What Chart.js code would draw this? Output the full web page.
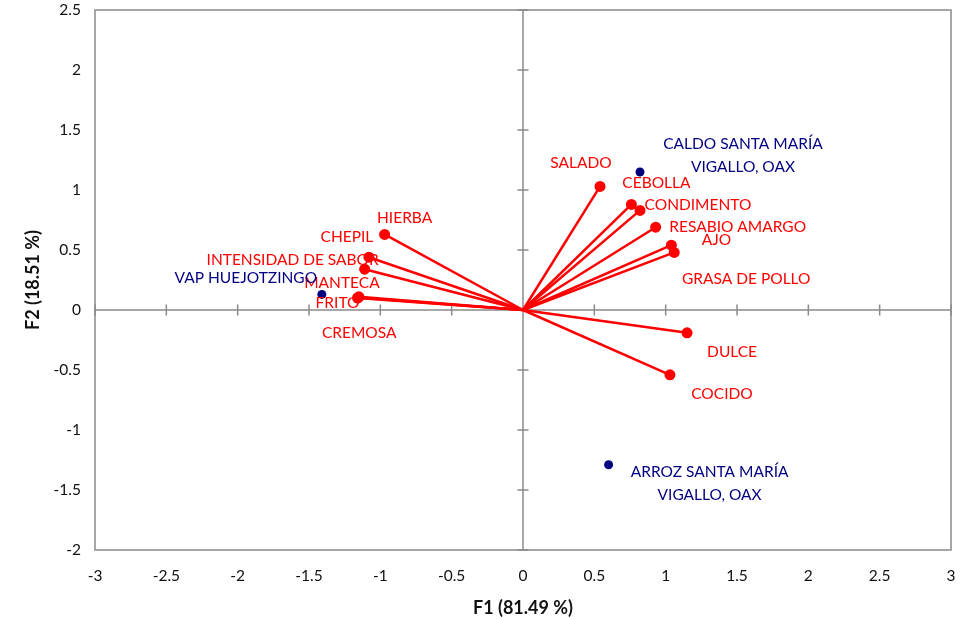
<!DOCTYPE html>
<html>
<head>
<meta charset="utf-8">
<script src="https://cdn.jsdelivr.net/npm/chart.js@4.4.0/dist/chart.umd.min.js"></script>
<style>
  html, body { margin: 0; padding: 0; background: #fff; }
  #wrap { width: 974px; height: 619px; }
</style>
</head>
<body>
<div id="wrap"><canvas id="biplot" width="974" height="619"></canvas></div>
<script>
// sensory attributes (variables) on F1 / F2
const varNames = ['SALADO', 'CEBOLLA', 'CONDIMENTO', 'RESABIO AMARGO', 'AJO', 'GRASA DE POLLO', 'DULCE', 'COCIDO',
  'HIERBA', 'CHEPIL', 'INTENSIDAD DE SABOR', 'MANTECA', 'FRITO', 'CREMOSA'];
const varF1 = [0.54, 0.76, 0.82, 0.93, 1.04, 1.06, 1.15, 1.03, -0.97, -1.08, -1.11, -1.15, -1.16, -1.155];
const varF2 = [1.03, 0.88, 0.83, 0.69, 0.54, 0.48, -0.19, -0.54, 0.63, 0.44, 0.34, 0.11, 0.10, 0.105];

// samples (observations)
const obsNames = [['CALDO SANTA MARÍA', 'VIGALLO, OAX'], ['VAP HUEJOTZINGO'], ['ARROZ SANTA MARÍA', 'VIGALLO, OAX']];
const obsF1 = [0.82, -1.41, 0.60];
const obsF2 = [1.15, 0.13, -1.29];

const xTickValues = [-3, -2.5, -2, -1.5, -1, -0.5, 0, 0.5, 1, 1.5, 2, 2.5, 3];
const yTickValues = [-2, -1.5, -1, -0.5, 0, 0.5, 1, 1.5, 2, 2.5];

// where each label sits relative to its point, in px
const varLabelOffset = [[-19, -23], [25, -21], [58, -5], [82, 0], [45, -5], [72, 27], [45, 19], [52, 19],
  [20, -16], [-22, -20], [-72, -9], [-17, -14], [-20, 5], [1, 36]];
const obsLabelOffset = [[103, -28], [-76, -16], [101, 7]];

const RED = '#FF0000';
const NAVY = '#000080';
const AXIS_GREY = '#8a8a8a';
const FONT = 'Lato, "Open Sans", sans-serif';

const vectorSets = varNames.map((name, i) => ({
  label: name,
  data: [{ x: 0, y: 0 }, { x: varF1[i], y: varF2[i] }],
  showLine: true,
  borderColor: RED,
  borderWidth: 2.5,
  pointRadius: [0, 5.5],
  pointHoverRadius: [0, 5.5],
  pointBackgroundColor: RED,
  pointBorderWidth: 0,
  order: 2
}));

const obsSet = {
  label: 'obs',
  data: obsF1.map((x, i) => ({ x: x, y: obsF2[i] })),
  showLine: false,
  pointRadius: 4.5,
  pointBackgroundColor: NAVY,
  pointBorderWidth: 0,
  order: 1
};

// frame + zero axes with cross tick marks
const axesPlugin = {
  id: 'axesPlugin',
  beforeDatasetsDraw(chart) {
    const { ctx, chartArea: a, scales: { x, y } } = chart;
    ctx.save();
    ctx.strokeStyle = AXIS_GREY;
    ctx.lineWidth = 1.5;
    ctx.strokeRect(a.left, a.top, a.right - a.left, a.bottom - a.top);
    const x0 = x.getPixelForValue(0);
    const y0 = y.getPixelForValue(0);
    ctx.beginPath();
    ctx.moveTo(a.left, y0); ctx.lineTo(a.right, y0);
    ctx.moveTo(x0, a.top); ctx.lineTo(x0, a.bottom);
    xTickValues.forEach(v => {
      const px = x.getPixelForValue(v);
      ctx.moveTo(px, y0 - 5.5); ctx.lineTo(px, y0 + 5.5);
    });
    yTickValues.forEach(v => {
      const py = y.getPixelForValue(v);
      ctx.moveTo(x0 - 5.5, py); ctx.lineTo(x0 + 5.5, py);
    });
    ctx.stroke();
    ctx.restore();
  }
};

// point names
const labelPlugin = {
  id: 'labelPlugin',
  afterDatasetsDraw(chart) {
    const { ctx, scales: { x, y } } = chart;
    ctx.save();
    ctx.font = '15.5px ' + FONT;
    ctx.textAlign = 'center';
    ctx.textBaseline = 'middle';
    ctx.fillStyle = RED;
    varNames.forEach((name, i) => {
      const px = x.getPixelForValue(varF1[i]) + varLabelOffset[i][0];
      const py = y.getPixelForValue(varF2[i]) + varLabelOffset[i][1];
      ctx.fillText(name, px, py);
    });
    ctx.fillStyle = NAVY;
    obsNames.forEach((lines, i) => {
      const px = x.getPixelForValue(obsF1[i]) + obsLabelOffset[i][0];
      const py = y.getPixelForValue(obsF2[i]) + obsLabelOffset[i][1];
      lines.forEach((t, k) => ctx.fillText(t, px, py + k * 23));
    });
    ctx.restore();
  }
};

new Chart(document.getElementById('biplot'), {
  type: 'scatter',
  data: { datasets: [...vectorSets, obsSet] },
  options: {
    responsive: false,
    animation: false,
    devicePixelRatio: 1,
    layout: { padding: { top: 10, right: 23, left: 0, bottom: 0 } },
    plugins: { legend: { display: false }, tooltip: { enabled: false } },
    scales: {
      x: {
        type: 'linear',
        min: -3,
        max: 3,
        grid: { display: false, drawTicks: false },
        border: { display: false },
        afterBuildTicks: s => { s.ticks = xTickValues.map(v => ({ value: v })); },
        afterFit: s => { s.height = 69; s.paddingLeft = 0; s.paddingRight = 0; },
        ticks: {
          padding: 17,
          color: '#111',
          font: { family: FONT, size: 15.5 },
          callback: v => String(v),
          maxRotation: 0,
          autoSkip: false
        },
        title: {
          display: true,
          text: 'F1 (81.49 %)',
          color: '#111',
          font: { family: FONT, size: 18, weight: 'bold' },
          padding: { top: 3, bottom: 0 }
        }
      },
      y: {
        type: 'linear',
        min: -2,
        max: 2.5,
        grid: { display: false, drawTicks: false },
        border: { display: false },
        afterBuildTicks: s => { s.ticks = yTickValues.map(v => ({ value: v })); },
        afterFit: s => { s.width = 95; s.paddingTop = 0; s.paddingBottom = 0; },
        ticks: {
          padding: 14,
          color: '#111',
          font: { family: FONT, size: 15.5 },
          callback: v => String(v),
          autoSkip: false
        },
        title: {
          display: true,
          text: 'F2 (18.51 %)',
          color: '#111',
          font: { family: FONT, size: 18, weight: 'bold' },
          padding: { top: 22, bottom: 0 }
        }
      }
    }
  },
  plugins: [axesPlugin, labelPlugin]
});
</script>
</body>
</html>
